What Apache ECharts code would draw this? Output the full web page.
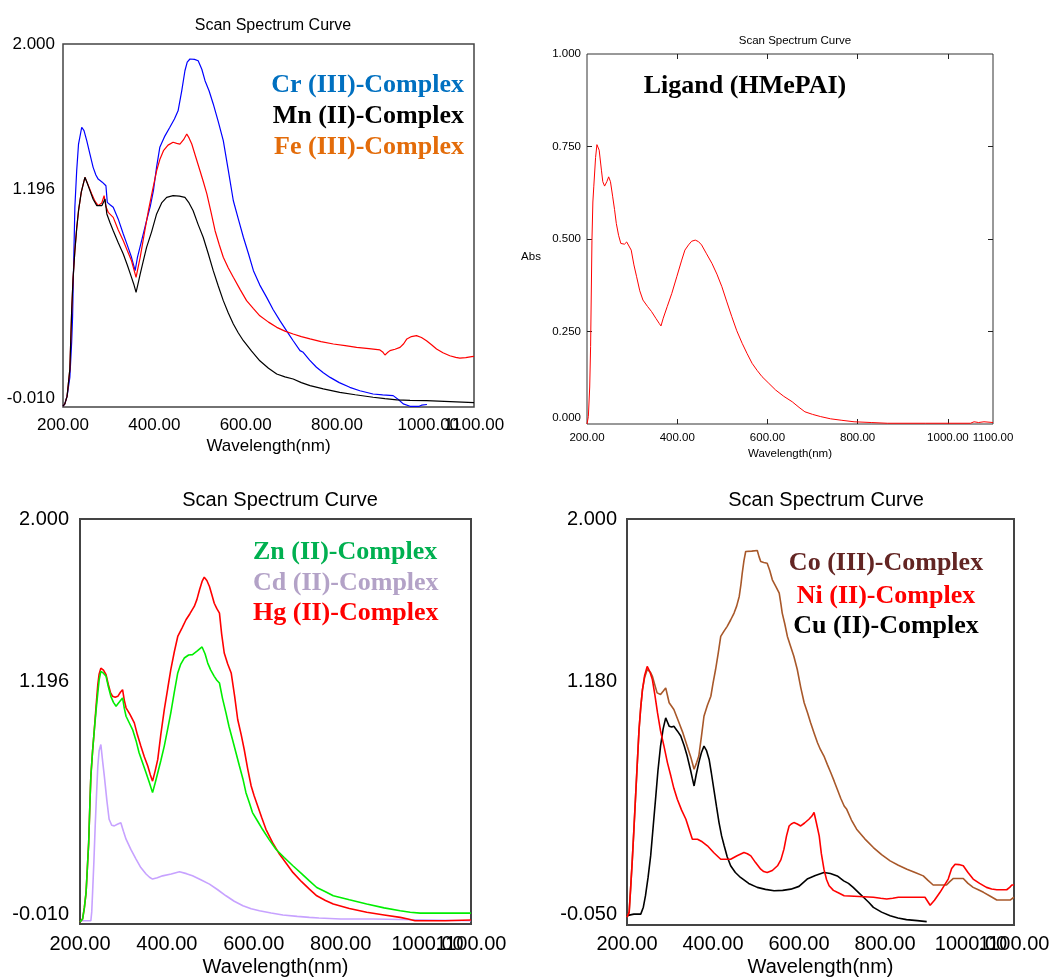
<!DOCTYPE html>
<html>
<head>
<meta charset="utf-8">
<script src="https://cdn.jsdelivr.net/npm/echarts@6/dist/echarts.min.js"></script>
<style>
html,body{margin:0;padding:0;background:#fff;}
#chart{width:1054px;height:978px;}
</style>
</head>
<body>
<div id="chart"></div>
<script>
// ---------- tick labels ----------
const xTickValues = [200, 400, 600, 800, 1000, 1100];
const yTicksA = [-0.01, 1.196, 2.0];   // top-left and bottom-left panels
const yTicksB = [0, 0.25, 0.5, 0.75, 1.0]; // ligand panel
const yTicksC = [-0.05, 1.18, 2.0];    // bottom-right panel

// ---------- legend / label texts ----------
const legendTop = ['Cr (III)-Complex', 'Mn (II)-Complex', 'Fe (III)-Complex'];
const legendLigand = 'Ligand (HMePAI)';
const legendBL = ['Zn (II)-Complex', 'Cd (II)-Complex', 'Hg (II)-Complex'];
const legendBR = ['Co (III)-Complex', 'Ni (II)-Complex', 'Cu (II)-Complex'];

// ---------- data: [wavelength nm, absorbance] ----------
const crData = [[200,-0.005],[204,0.007],[209,0.05],[215,0.154],[219,0.35],[221,0.49],[223,0.745],[226,1.097],[230,1.3],[234,1.446],[241,1.539],[246,1.52],[252,1.465],[259,1.39],[266,1.317],[272,1.275],[277,1.252],[286,1.235],[294,1.215],[297,1.123],[303,1.11],[310,1.096],[321,1.03],[332,0.948],[341,0.885],[350,0.819],[358,0.745],[363,0.819],[373,0.92],[383,1.022],[391,1.1],[398,1.188],[405,1.32],[412,1.428],[423,1.49],[434,1.539],[444,1.585],[452,1.63],[460,1.74],[467,1.852],[472,1.9],[478,1.917],[488,1.915],[496,1.907],[504,1.86],[511,1.797],[520,1.74],[529,1.668],[540,1.57],[551,1.465],[562,1.3],[573,1.132],[584,1.03],[595,0.93],[606,0.84],[617,0.745],[631,0.665],[646,0.597],[660,0.53],[675,0.468],[690,0.41],[704,0.357],[719,0.302],[726,0.293],[740,0.25],[755,0.21],[770,0.18],[785,0.154],[805,0.125],[828,0.099],[850,0.08],[879,0.062],[900,0.057],[923,0.053],[935,0.03],[945,0.007],[960,-0.006],[980,-0.006],[985,0.0],[997,0.004]];
const mnData = [[200,-0.005],[204,0.007],[209,0.05],[215,0.2],[219,0.523],[222,0.7],[226,0.855],[230,0.98],[234,1.077],[240,1.18],[248,1.262],[253,1.23],[259,1.188],[266,1.14],[274,1.105],[285,1.105],[292,1.142],[296,1.059],[303,1.01],[310,0.966],[321,0.9],[332,0.837],[341,0.775],[350,0.708],[355,0.67],[360,0.625],[365,0.68],[369,0.726],[376,0.8],[383,0.874],[394,0.96],[405,1.059],[416,1.12],[427,1.151],[441,1.16],[455,1.158],[467,1.151],[476,1.12],[485,1.077],[496,1.0],[507,0.93],[518,0.84],[529,0.745],[540,0.66],[551,0.579],[562,0.51],[573,0.45],[584,0.4],[595,0.357],[613,0.3],[631,0.246],[650,0.205],[668,0.173],[686,0.157],[704,0.145],[722,0.125],[741,0.108],[770,0.09],[806,0.071],[840,0.058],[879,0.044],[905,0.036],[931,0.029],[960,0.027],[996,0.025],[1000,0.014],[1100,0.014]];
const feData = [[200,-0.005],[204,0.007],[209,0.05],[215,0.2],[219,0.523],[222,0.7],[226,0.855],[230,0.98],[234,1.077],[240,1.18],[248,1.262],[255,1.22],[263,1.17],[270,1.13],[277,1.105],[285,1.12],[290,1.16],[294,1.1],[299,1.068],[310,1.04],[321,0.97],[332,0.911],[341,0.855],[350,0.8],[360,0.708],[365,0.77],[369,0.819],[378,0.95],[387,1.077],[396,1.19],[405,1.298],[412,1.36],[420,1.409],[430,1.44],[441,1.456],[449,1.45],[456,1.446],[464,1.47],[471,1.502],[476,1.48],[482,1.446],[490,1.38],[500,1.298],[507,1.24],[515,1.17],[524,1.07],[533,0.966],[542,0.89],[551,0.819],[562,0.76],[573,0.708],[588,0.64],[602,0.579],[617,0.535],[631,0.495],[650,0.46],[668,0.431],[686,0.41],[704,0.394],[722,0.38],[741,0.367],[765,0.352],[792,0.339],[818,0.33],[843,0.32],[870,0.313],[894,0.306],[900,0.295],[905,0.278],[910,0.29],[916,0.302],[927,0.31],[938,0.32],[946,0.34],[953,0.367],[963,0.38],[974,0.385],[985,0.375],[996,0.357],[1007,0.335],[1018,0.311],[1032,0.29],[1047,0.274],[1060,0.265],[1069,0.261],[1082,0.263],[1095,0.269],[1100,0.27]];

const ligandData = [[200,0.0],[203,0.02],[206,0.1],[208,0.209],[211,0.497],[213,0.6],[215,0.641],[219,0.72],[222,0.755],[224,0.759],[227,0.74],[232,0.686],[235,0.655],[239,0.643],[244,0.655],[248,0.668],[252,0.655],[257,0.614],[261,0.58],[265,0.542],[270,0.51],[275,0.488],[283,0.486],[288,0.492],[292,0.49],[298,0.47],[304,0.43],[310,0.398],[317,0.36],[324,0.335],[334,0.318],[343,0.304],[353,0.285],[360,0.272],[364,0.265],[369,0.286],[378,0.318],[388,0.353],[399,0.398],[410,0.443],[417,0.47],[425,0.484],[432,0.494],[440,0.497],[447,0.493],[454,0.484],[465,0.46],[477,0.434],[488,0.405],[499,0.371],[510,0.33],[521,0.29],[532,0.252],[544,0.218],[555,0.19],[566,0.164],[577,0.145],[588,0.128],[603,0.11],[618,0.092],[636,0.075],[655,0.06],[670,0.045],[683,0.033],[700,0.026],[718,0.02],[740,0.014],[765,0.01],[792,0.006],[830,0.004],[866,0.002],[950,0.002],[1050,0.002],[1058,0.006],[1068,0.004],[1080,0.006],[1100,0.004]];

const znData = [[200,0.0],[203,0.0],[206,0.015],[210,0.07],[214,0.147],[217,0.27],[220,0.394],[223,0.6],[225,0.724],[229,0.85],[233,0.955],[237,1.05],[241,1.137],[244,1.2],[248,1.244],[254,1.235],[260,1.219],[265,1.17],[271,1.12],[277,1.09],[283,1.071],[290,1.09],[298,1.112],[302,1.06],[306,1.021],[313,0.99],[321,0.955],[329,0.9],[336,0.84],[344,0.79],[352,0.741],[360,0.69],[367,0.642],[373,0.69],[379,0.741],[386,0.8],[394,0.873],[402,0.96],[409,1.038],[417,1.14],[425,1.236],[432,1.28],[440,1.31],[450,1.325],[459,1.327],[470,1.345],[481,1.365],[488,1.33],[494,1.285],[501,1.25],[509,1.219],[515,1.2],[521,1.186],[528,1.11],[536,1.038],[543,0.97],[551,0.906],[559,0.84],[567,0.774],[575,0.71],[582,0.642],[590,0.59],[597,0.543],[609,0.5],[620,0.46],[635,0.41],[651,0.361],[670,0.32],[690,0.279],[710,0.24],[728,0.204],[745,0.171],[765,0.15],[783,0.13],[820,0.11],[860,0.089],[900,0.07],[937,0.056],[960,0.048],[983,0.044],[1100,0.044]];
const cdData = [[200,0.006],[215,0.006],[225,0.006],[227,0.05],[229,0.147],[232,0.3],[235,0.477],[238,0.63],[241,0.773],[244,0.85],[248,0.881],[252,0.8],[256,0.724],[262,0.6],[267,0.51],[273,0.48],[279,0.477],[286,0.485],[294,0.493],[300,0.45],[306,0.411],[317,0.36],[329,0.312],[340,0.27],[352,0.238],[360,0.222],[367,0.213],[378,0.22],[390,0.229],[410,0.238],[429,0.249],[445,0.24],[459,0.229],[478,0.21],[498,0.188],[517,0.16],[536,0.13],[555,0.103],[575,0.081],[594,0.066],[613,0.056],[640,0.045],[667,0.035],[700,0.028],[728,0.023],[750,0.02],[800,0.015],[875,0.015],[876,0.006],[1100,0.006]];
const hgData = [[200,0.0],[203,0.0],[206,0.015],[210,0.07],[214,0.147],[217,0.27],[220,0.394],[223,0.6],[225,0.724],[229,0.85],[233,0.955],[237,1.07],[241,1.178],[244,1.23],[248,1.26],[254,1.25],[260,1.228],[265,1.18],[270,1.14],[275,1.12],[281,1.115],[287,1.12],[293,1.14],[298,1.153],[302,1.1],[306,1.063],[315,1.03],[325,0.988],[332,0.93],[340,0.873],[348,0.82],[356,0.774],[362,0.73],[367,0.699],[373,0.75],[379,0.807],[386,0.93],[394,1.054],[402,1.16],[409,1.252],[417,1.34],[425,1.417],[435,1.46],[444,1.5],[453,1.53],[463,1.566],[469,1.6],[475,1.648],[481,1.69],[486,1.711],[492,1.695],[498,1.665],[504,1.62],[509,1.582],[515,1.555],[521,1.533],[526,1.43],[532,1.335],[540,1.28],[548,1.236],[556,1.12],[563,1.005],[571,0.93],[578,0.856],[586,0.76],[594,0.675],[601,0.625],[609,0.576],[618,0.52],[628,0.46],[643,0.395],[659,0.337],[675,0.29],[690,0.246],[710,0.2],[728,0.163],[745,0.13],[765,0.107],[783,0.089],[820,0.067],[860,0.048],[900,0.035],[937,0.023],[955,0.015],[971,0.006],[1040,0.006],[1044,0.01],[1100,0.01]];

const coData = [[200,-0.01],[203,0.0],[205,0.014],[208,0.12],[212,0.266],[216,0.43],[220,0.601],[224,0.77],[228,0.937],[232,1.05],[236,1.139],[241,1.2],[247,1.24],[251,1.248],[255,1.225],[259,1.206],[265,1.16],[270,1.122],[278,1.114],[284,1.13],[290,1.147],[294,1.11],[298,1.072],[309,1.038],[321,0.971],[330,0.92],[340,0.853],[348,0.8],[356,0.736],[362,0.77],[367,0.803],[373,0.9],[379,1.004],[387,1.06],[395,1.105],[400,1.17],[406,1.24],[412,1.32],[418,1.407],[426,1.435],[433,1.458],[441,1.49],[449,1.525],[455,1.56],[461,1.609],[465,1.67],[468,1.727],[472,1.79],[476,1.836],[490,1.838],[503,1.841],[507,1.81],[511,1.785],[518,1.78],[526,1.777],[532,1.74],[538,1.693],[546,1.66],[554,1.626],[558,1.57],[561,1.525],[567,1.47],[573,1.407],[580,1.36],[588,1.307],[596,1.24],[604,1.15],[612,1.072],[620,1.02],[627,0.971],[635,0.92],[643,0.87],[650,0.835],[658,0.803],[666,0.76],[674,0.719],[682,0.675],[689,0.635],[697,0.59],[705,0.551],[711,0.534],[722,0.48],[734,0.434],[753,0.385],[773,0.341],[792,0.305],[812,0.274],[831,0.252],[851,0.232],[870,0.215],[889,0.198],[900,0.175],[912,0.152],[930,0.152],[943,0.152],[950,0.168],[959,0.185],[970,0.185],[982,0.185],[993,0.16],[1005,0.14],[1017,0.128],[1029,0.115],[1045,0.095],[1060,0.076],[1075,0.076],[1091,0.076],[1100,0.09]];
const niData = [[200,-0.01],[203,0.0],[205,0.014],[208,0.12],[212,0.266],[216,0.43],[220,0.601],[224,0.77],[228,0.937],[232,1.05],[236,1.139],[241,1.21],[247,1.256],[253,1.23],[259,1.189],[265,1.11],[271,1.021],[278,0.93],[286,0.853],[294,0.77],[302,0.702],[309,0.64],[317,0.585],[327,0.53],[337,0.484],[345,0.43],[352,0.383],[358,0.383],[364,0.383],[375,0.37],[387,0.35],[402,0.315],[418,0.282],[430,0.282],[441,0.282],[456,0.3],[472,0.316],[480,0.31],[488,0.299],[499,0.265],[511,0.232],[518,0.22],[526,0.215],[538,0.225],[550,0.249],[558,0.28],[565,0.333],[571,0.4],[577,0.45],[582,0.46],[588,0.467],[596,0.46],[604,0.45],[613,0.465],[623,0.484],[630,0.5],[635,0.518],[640,0.47],[647,0.4],[652,0.31],[658,0.232],[664,0.18],[670,0.148],[680,0.125],[689,0.115],[705,0.098],[740,0.094],[773,0.09],[790,0.085],[804,0.081],[818,0.085],[831,0.09],[860,0.09],[893,0.09],[899,0.07],[905,0.05],[915,0.075],[928,0.115],[938,0.15],[947,0.182],[955,0.235],[963,0.257],[972,0.255],[982,0.249],[993,0.215],[1005,0.182],[1020,0.16],[1036,0.14],[1048,0.132],[1060,0.128],[1083,0.128],[1090,0.14],[1095,0.152],[1100,0.152]];
const cuData = [[200,-0.005],[205,0.0],[216,0.005],[232,0.005],[238,0.04],[243,0.098],[249,0.19],[255,0.299],[261,0.45],[267,0.601],[272,0.73],[278,0.853],[284,0.94],[290,0.996],[294,0.975],[298,0.954],[304,0.95],[309,0.954],[317,0.93],[325,0.904],[333,0.855],[340,0.803],[348,0.73],[352,0.69],[356,0.652],[361,0.71],[367,0.77],[373,0.82],[379,0.853],[385,0.83],[391,0.786],[396,0.72],[402,0.635],[408,0.55],[414,0.467],[420,0.4],[426,0.35],[433,0.295],[441,0.249],[452,0.215],[464,0.19],[483,0.16],[503,0.14],[522,0.13],[542,0.123],[562,0.125],[581,0.131],[600,0.145],[619,0.182],[638,0.2],[658,0.215],[673,0.21],[689,0.198],[704,0.173],[715,0.16],[726,0.14],[738,0.115],[750,0.09],[762,0.065],[773,0.039],[792,0.015],[812,-0.003],[830,-0.015],[850,-0.023],[875,-0.028],[897,-0.033]];

// ---------- chart ----------
const SANS = '"Liberation Sans", Arial, sans-serif';
const SERIF = '"Liberation Serif", "Times New Roman", serif';

// main x axis: all ticks except the last; a companion axis draws the last one
// (so the overlapping 1000.00 / 1100.00 labels are both shown, as in the original)
function xAxisDef(gridIndex, fs, margin, nameGap, values) {
  return {
    type: 'value', gridIndex: gridIndex, min: 200, max: 1100, position: 'bottom',
    name: 'Wavelength(nm)', nameLocation: 'middle', nameGap: nameGap,
    nameTextStyle: {fontFamily: SANS, fontSize: fs, color: '#000'},
    axisLine: {show: false, onZero: false}, splitLine: {show: false},
    axisTick: {show: false},
    axisLabel: {
      customValues: values, margin: margin, fontFamily: SANS, fontSize: fs, color: '#000',
      showMinLabel: true, showMaxLabel: true, hideOverlap: false,
      formatter: v => v.toFixed(2)
    }
  };
}
function xAxisLast(gridIndex, fs, margin) {
  return {
    type: 'value', gridIndex: gridIndex, min: 200, max: 1100, position: 'bottom',
    axisLine: {show: false, onZero: false}, splitLine: {show: false}, axisTick: {show: false},
    axisLabel: {
      customValues: xTickValues.slice(-1), margin: margin, fontFamily: SANS, fontSize: fs, color: '#000',
      showMinLabel: true, showMaxLabel: true, formatter: v => v.toFixed(2)
    }
  };
}
function yAxisDef(gridIndex, ticks, fs, margin, lift) {
  const lo = ticks[0], hi = ticks[ticks.length - 1];
  return {
    type: 'value', gridIndex: gridIndex, min: lo, max: hi,
    axisLine: {show: false, onZero: false}, splitLine: {show: false}, axisTick: {show: false},
    axisLabel: {
      customValues: ticks, margin: margin, fontFamily: SANS, fontSize: fs, color: '#000',
      showMinLabel: true, showMaxLabel: true,
      formatter: v => (v === lo ? '{lo|' + v.toFixed(3) + '}' : v.toFixed(3)),
      rich: {lo: {fontFamily: SANS, fontSize: fs, color: '#000', padding: [0, 0, lift, 0]}}
    }
  };
}
function line(name, data, color, xi, yi, w) {
  return {
    name: name, type: 'line', data: data, xAxisIndex: xi, yAxisIndex: yi,
    showSymbol: false, symbol: 'none', smooth: false,
    lineStyle: {color: color, width: w}, itemStyle: {color: color},
    emphasis: {disabled: true}
  };
}
function legendText(x, y, text, color, align) {
  return {
    type: 'text', x: x, y: y, silent: true,
    style: {text: text, fill: color, font: 'bold 26px ' + SERIF, textAlign: align, textVerticalAlign: 'middle'}
  };
}
function innerTick(values) {
  return {show: true, inside: true, length: 5, customValues: values.slice(), lineStyle: {color: '#222', width: 1}};
}

const ax2Bottom = xAxisDef(1, 11.5, 8, 24, xTickValues);
ax2Bottom.axisTick = innerTick([400, 600, 800, 1000]);
const ax2Top = {
  type: 'value', gridIndex: 1, min: 200, max: 1100, position: 'top',
  axisLine: {show: false, onZero: false}, splitLine: {show: false},
  axisLabel: {show: false},
  axisTick: innerTick([400, 600, 800, 1000])
};
const ay2Left = yAxisDef(1, yTicksB, 11.5, 6, 12);
ay2Left.axisTick = innerTick([0.25, 0.5, 0.75]);
const ay2Right = {
  type: 'value', gridIndex: 1, min: 0, max: 1, position: 'right',
  axisLine: {show: false, onZero: false}, splitLine: {show: false}, axisLabel: {show: false},
  axisTick: innerTick([0.25, 0.5, 0.75])
};
const mainTicks = xTickValues.slice(0, -1);

const option = {
  animation: false,
  backgroundColor: '#fff',
  title: [
    {text: 'Scan Spectrum Curve', left: 268, top: 13, textAlign: 'center', textStyle: {fontFamily: SANS, fontSize: 16, fontWeight: 'normal', color: '#000'}},
    {text: 'Scan Spectrum Curve', left: 790, top: 30, textAlign: 'center', textStyle: {fontFamily: SANS, fontSize: 11.5, fontWeight: 'normal', color: '#000'}},
    {text: 'Scan Spectrum Curve', left: 275, top: 485, textAlign: 'center', textStyle: {fontFamily: SANS, fontSize: 20, fontWeight: 'normal', color: '#000'}},
    {text: 'Scan Spectrum Curve', left: 821, top: 485, textAlign: 'center', textStyle: {fontFamily: SANS, fontSize: 20, fontWeight: 'normal', color: '#000'}}
  ],
  grid: [
    {left: 63, top: 44, width: 411, height: 363, show: true, borderColor: '#444', borderWidth: 1.5, backgroundColor: '#fff'},
    {left: 587, top: 54, width: 406, height: 370, show: true, borderColor: '#333', borderWidth: 1, backgroundColor: '#fff'},
    {left: 80, top: 519, width: 391, height: 406, show: true, borderColor: '#444', borderWidth: 2, backgroundColor: '#fff'},
    {left: 627, top: 519, width: 387, height: 407, show: true, borderColor: '#444', borderWidth: 2, backgroundColor: '#fff'}
  ],
  xAxis: [
    xAxisDef(0, 17, 10, 31, mainTicks),
    ax2Bottom,
    ax2Top,
    xAxisDef(2, 20, 10, 33, mainTicks),
    xAxisDef(3, 20, 9, 32, mainTicks),
    xAxisLast(0, 17, 10),
    xAxisLast(2, 20, 10),
    xAxisLast(3, 20, 9)
  ],
  yAxis: [
    yAxisDef(0, yTicksA, 17, 8, 18),
    ay2Left,
    ay2Right,
    yAxisDef(2, yTicksA, 20, 11, 20),
    yAxisDef(3, yTicksC, 20, 10, 22)
  ],
  series: [
    line('Cr (III)-Complex', crData, '#0000ff', 0, 0, 1.2),
    line('Fe (III)-Complex', feData, '#ff0000', 0, 0, 1.2),
    line('Mn (II)-Complex', mnData, '#000000', 0, 0, 1.2),
    line('Ligand (HMePAI)', ligandData, '#ff0000', 1, 1, 1),
    line('Cd (II)-Complex', cdData, '#c7a2ff', 3, 3, 1.6),
    line('Hg (II)-Complex', hgData, '#ff0000', 3, 3, 1.6),
    line('Zn (II)-Complex', znData, '#00ee00', 3, 3, 1.6),
    line('Co (III)-Complex', coData, '#a8582a', 4, 4, 1.6),
    line('Cu (II)-Complex', cuData, '#000000', 4, 4, 1.6),
    line('Ni (II)-Complex', niData, '#ff0000', 4, 4, 1.6)
  ],
  graphic: [
    {type: 'text', x: 531, y: 257, silent: true,
     style: {text: 'Abs', fill: '#000', font: '11.5px ' + SANS, textAlign: 'center', textVerticalAlign: 'middle'}},
    legendText(464, 85, legendTop[0], '#0070c0', 'right'),
    legendText(464, 116, legendTop[1], '#000000', 'right'),
    legendText(464, 147, legendTop[2], '#e36c0a', 'right'),
    legendText(745, 86, legendLigand, '#000000', 'center'),
    legendText(253, 552, legendBL[0], '#00b050', 'left'),
    legendText(253, 583, legendBL[1], '#b3a2c7', 'left'),
    legendText(253, 613, legendBL[2], '#ff0000', 'left'),
    legendText(886, 563, legendBR[0], '#632523', 'center'),
    legendText(886, 596, legendBR[1], '#ff0000', 'center'),
    legendText(886, 626, legendBR[2], '#000000', 'center')
  ]
};

const chart = echarts.init(document.getElementById('chart'), null, {renderer: 'canvas'});
chart.setOption(option);
</script>
</body>
</html>
